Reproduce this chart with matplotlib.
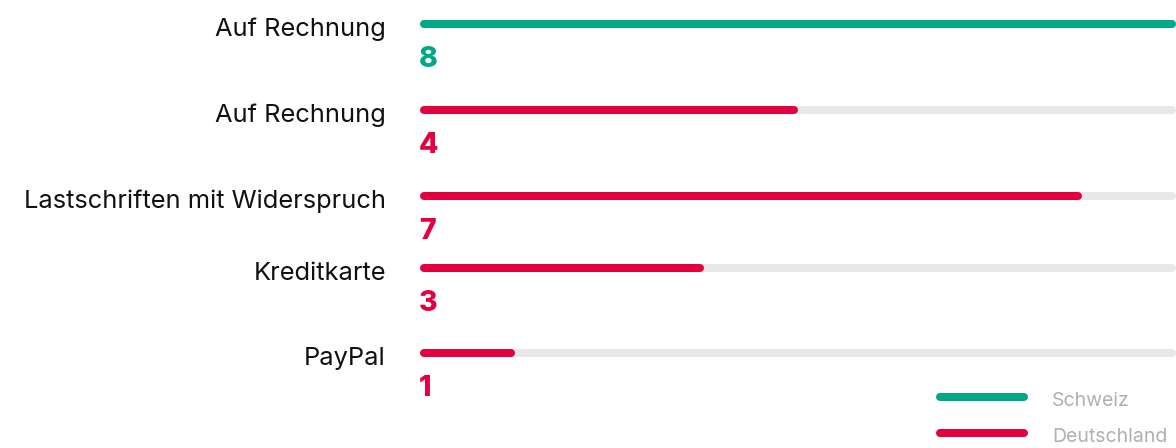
import matplotlib.pyplot as plt

# data
labels = ["Auf Rechnung", "Auf Rechnung", "Lastschriften mit Widerspruch", "Kreditkarte", "PayPal"]
values = [8, 4, 7, 3, 1]
countries = ["Schweiz", "Deutschland", "Deutschland", "Deutschland", "Deutschland"]
max_value = 8

colors = {"Schweiz": "#00a887", "Deutschland": "#e4003f"}
track_color = "#e8e8e8"

# row centres in pixels (top of figure = 0)
row_y = [24, 110, 196, 268, 353]

W, H = 1176, 448
fig = plt.figure(figsize=(W / 100, H / 100), dpi=100)
# axes: x in data units (0..max), y in pixels
x0, x1 = 420, 1176
ax = fig.add_axes([x0 / W, 0, (x1 - x0) / W, 1])
ax.set_xlim(0, max_value)
ax.set_ylim(H, 0)
ax.axis("off")

px = (x1 - x0) / max_value  # pixels per unit
bar_px = 8
lw = bar_px * 72 / 100
cap = (bar_px / 2) / px  # round cap length in data units, keep caps inside the bar length
font = "Inter"

for lab, val, c, y in zip(labels, values, countries, row_y):
    ax.plot([cap, max_value - cap], [y, y], color=track_color, lw=lw, solid_capstyle="round",
            zorder=1, clip_on=False)
    ax.plot([cap, val - cap], [y, y], color=colors[c], lw=lw, solid_capstyle="round",
            zorder=2, clip_on=False)
    ax.text(-34 / px, y + 12, lab, ha="right", va="baseline",
            fontsize=18.3, family=font, color="#111111", clip_on=False)
    ax.text(-1 / px, y + 43, str(val), ha="left", va="baseline",
            fontsize=20.5, fontweight="heavy", family=font, color=colors[c], clip_on=False)

# legend
leg_y = [397, 433]
for name, y in zip(["Schweiz", "Deutschland"], leg_y):
    ax.plot([(940 - x0) / px, (1024 - x0) / px], [y, y], color=colors[name], lw=lw,
            solid_capstyle="round", clip_on=False)
    ax.text((1052 - x0) / px, y + 9, name, ha="left", va="baseline", fontsize=14,
            family=font, color="#b0b0b0", clip_on=False)

fig.savefig("out.png", dpi=100)
